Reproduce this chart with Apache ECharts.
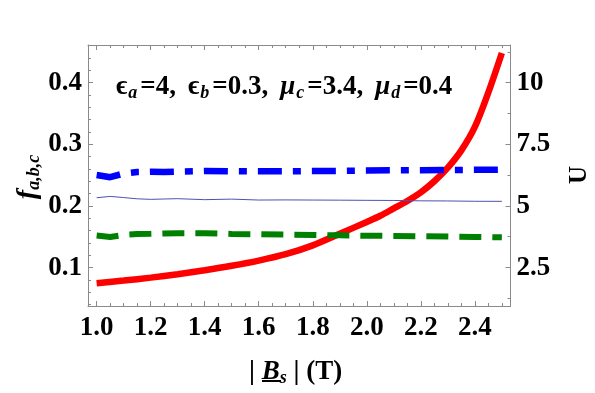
<!DOCTYPE html>
<html>
<head>
<meta charset="utf-8">
<script src="https://cdn.jsdelivr.net/npm/echarts@6/dist/echarts.min.js"></script>
<style>
html,body{margin:0;padding:0;background:#fff;}
#chart{width:595px;height:393px;}
</style>
</head>
<body>
<div id="chart"></div>
<script>
// ---- data ----
const fX = [1.0, 1.05, 1.1, 1.15, 1.2, 1.25, 1.3, 1.4, 1.5, 1.6, 1.7, 1.8, 1.9, 2.0, 2.1, 2.2, 2.3, 2.4, 2.5];
const fBlueDashDot = [0.250, 0.2465, 0.2525, 0.2550, 0.2555, 0.2550, 0.2555, 0.2565, 0.2560, 0.2560, 0.2562, 0.2565, 0.2568, 0.2575, 0.2577, 0.2580, 0.2582, 0.2585, 0.2587];
const fThinBlue   = [0.2132, 0.2154, 0.2135, 0.2115, 0.2106, 0.2112, 0.2117, 0.2101, 0.2110, 0.2095, 0.2097, 0.2095, 0.2093, 0.2090, 0.2088, 0.2082, 0.2080, 0.2075, 0.2074];
const fGreenDash  = [0.1520, 0.1495, 0.1530, 0.1543, 0.1548, 0.1554, 0.1556, 0.1556, 0.1545, 0.1540, 0.1535, 0.1527, 0.1522, 0.1516, 0.1512, 0.1508, 0.1503, 0.1496, 0.1490];
const uX = [1.0, 1.1, 1.2, 1.3, 1.4, 1.5, 1.6, 1.7, 1.8, 1.9, 2.0, 2.05, 2.1, 2.15, 2.2, 2.25, 2.3, 2.35, 2.4, 2.45, 2.5];
const uRed = [1.86, 1.97, 2.09, 2.23, 2.39, 2.57, 2.78, 3.04, 3.40, 3.87, 4.35, 4.60, 4.90, 5.20, 5.55, 6.00, 6.55, 7.25, 8.20, 9.60, 11.20];

const xTickLabels = [1.0, 1.2, 1.4, 1.6, 1.8, 2.0, 2.2, 2.4];
const xMinorTicks = [1.0,1.05,1.1,1.15,1.2,1.25,1.3,1.35,1.4,1.45,1.5,1.55,1.6,1.65,1.7,1.75,1.8,1.85,1.9,1.95,2.0,2.05,2.1,2.15,2.2,2.25,2.3,2.35,2.4,2.45,2.5];
const fTickLabels = [0.1, 0.2, 0.3, 0.4];
const fMinorTicks = [0.04,0.06,0.08,0.1,0.12,0.14,0.16,0.18,0.2,0.22,0.24,0.26,0.28,0.3,0.32,0.34,0.36,0.38,0.4,0.42,0.44,0.46];
const uTickLabels = [2.5, 5, 7.5, 10];
const uMinorTicks = [1.25, 2.5, 3.75, 5, 6.25, 7.5, 8.75, 10, 11.25];

// ---- ranges ----
const XMIN = 0.968, XMAX = 2.532;
const FMIN = 0.0376, FMAX = 0.461;
const UMIN = FMIN * 25, UMAX = FMAX * 25;

const FRAME = '#8a8a8a';
const SERIF = '"Liberation Serif", "DejaVu Serif", serif';
const tickFont = { fontFamily: SERIF, fontWeight: 'bold', fontSize: 27, color: '#000' };

function pairs(xs, ys){ return xs.map((x,i)=>[x, ys[i]]); }

function xAx(pos, major, withLabel, showLine){
  return {
    type: 'value', position: pos, min: XMIN, max: XMAX,
    axisLine: { show: showLine, onZero: false, lineStyle: { color: FRAME, width: 1 } },
    axisTick: { show: true, inside: true, length: major ? 5 : 3, customValues: major ? xTickLabels : xMinorTicks, lineStyle: { color: FRAME } },
    axisLabel: withLabel ? Object.assign({ show: true, customValues: xTickLabels, margin: 9, formatter: v => v.toFixed(1) }, tickFont) : { show: false },
    splitLine: { show: false }
  };
}
function yAx(pos, min, max, majorVals, minorVals, major, withLabel, fmt, showLine){
  return {
    type: 'value', position: pos, min: min, max: max,
    axisLine: { show: showLine, onZero: false, lineStyle: { color: FRAME, width: 1 } },
    axisTick: { show: true, inside: true, length: major ? 5 : 3, customValues: major ? majorVals : minorVals, lineStyle: { color: FRAME } },
    axisLabel: withLabel ? Object.assign({ show: true, customValues: majorVals, margin: 6, formatter: fmt }, tickFont) : { show: false },
    splitLine: { show: false }
  };
}

const chart = echarts.init(document.getElementById('chart'), null, { renderer: 'canvas' });
chart.setOption({
  backgroundColor: '#fff',
  animation: false,
  grid: { left: 88, top: 45, right: 84.5, bottom: 87, containLabel: false },
  xAxis: [
    xAx('bottom', true, true, true),
    xAx('bottom', false, false, false),
    xAx('top', true, false, true),
    xAx('top', false, false, false)
  ],
  yAxis: [
    yAx('left', FMIN, FMAX, fTickLabels, fMinorTicks, true, true, v => v.toFixed(1), true),
    yAx('left', FMIN, FMAX, fTickLabels, fMinorTicks, false, false, null, false),
    yAx('right', UMIN, UMAX, uTickLabels, uMinorTicks, true, true, v => String(v), true),
    yAx('right', UMIN, UMAX, uTickLabels, uMinorTicks, false, false, null, false)
  ],
  series: [
    { type: 'line', xAxisIndex: 0, yAxisIndex: 2, data: pairs(uX, uRed), showSymbol: false, smooth: 0.3, z: 2,
      lineStyle: { color: '#ff0000', width: 6.5, cap: 'butt' } },
    { type: 'line', xAxisIndex: 0, yAxisIndex: 0, data: pairs(fX, fThinBlue), showSymbol: false, z: 3,
      lineStyle: { color: '#5050b4', width: 1 } },
    { type: 'line', xAxisIndex: 0, yAxisIndex: 0, data: pairs(fX, fBlueDashDot), showSymbol: false, z: 3,
      lineStyle: { color: '#0000ff', width: 6.5, type: [24, 11, 8, 11], cap: 'butt' } },
    { type: 'line', xAxisIndex: 0, yAxisIndex: 0, data: pairs(fX, fGreenDash), showSymbol: false, z: 3,
      lineStyle: { color: '#008000', width: 6, type: [22, 11], cap: 'butt' } }
  ],
  graphic: [
    { type: 'text', x: 116, y: 87, z: 10,
      style: {
        text: '{m|ϵ}{s|a}{m|=4,}{g| }{m|ϵ}{s|b}{m|=0.3,}{g| }{mi|μ}{s|c}{m|=3.4,}{g| }{mi|μ}{s|d}{m|=0.4}',
        align: 'left', verticalAlign: 'middle',
        rich: {
          m: { fontFamily: SERIF, fontWeight: 'bold', fontSize: 27, lineHeight: 30, fill: '#000', verticalAlign: 'middle' },
          mi: { fontFamily: SERIF, fontWeight: 'bold', fontStyle: 'italic', fontSize: 27, lineHeight: 30, fill: '#000', verticalAlign: 'middle' },
          g: { fontFamily: SERIF, fontSize: 27, lineHeight: 30, width: 12, verticalAlign: 'middle' },
          s: { fontFamily: SERIF, fontWeight: 'bold', fontStyle: 'italic', fontSize: 18, lineHeight: 16, fill: '#000', verticalAlign: 'bottom', padding: [0, 3, 0, 1] }
        }
      }
    },
    { type: 'text', x: 28, y: 177, rotation: Math.PI / 2, z: 10,
      style: {
        text: '{f|f}{s|a,b,c}',
        align: 'center', verticalAlign: 'middle',
        rich: {
          f: { fontFamily: SERIF, fontWeight: 'bold', fontStyle: 'italic', fontSize: 28, lineHeight: 30, fill: '#000', verticalAlign: 'middle' },
          s: { fontFamily: SERIF, fontWeight: 'bold', fontStyle: 'italic', fontSize: 18, lineHeight: 16, fill: '#000', verticalAlign: 'bottom' }
        }
      }
    },
    { type: 'text', x: 580, y: 175, rotation: Math.PI / 2, z: 10,
      style: { text: 'U', align: 'center', verticalAlign: 'middle', fontFamily: SERIF, fontWeight: 'bold', fontSize: 25, fill: '#000' }
    },
    { type: 'text', x: 249, y: 372, z: 10,
      style: {
        text: '{n|| }{b|B}{s|s}{n| | (T)}',
        align: 'left', verticalAlign: 'middle',
        rich: {
          n: { fontFamily: SERIF, fontWeight: 'bold', fontSize: 27, lineHeight: 30, fill: '#000', verticalAlign: 'middle' },
          b: { fontFamily: SERIF, fontWeight: 'bold', fontStyle: 'italic', fontSize: 27, lineHeight: 30, fill: '#000', verticalAlign: 'middle' },
          s: { fontFamily: SERIF, fontWeight: 'bold', fontStyle: 'italic', fontSize: 18, lineHeight: 18, fill: '#000', verticalAlign: 'bottom' }
        }
      }
    },
    { type: 'line', z: 10, shape: { x1: 262, y1: 381, x2: 281, y2: 381 }, style: { stroke: '#000', lineWidth: 2 } }
  ]
});
</script>
</body>
</html>
